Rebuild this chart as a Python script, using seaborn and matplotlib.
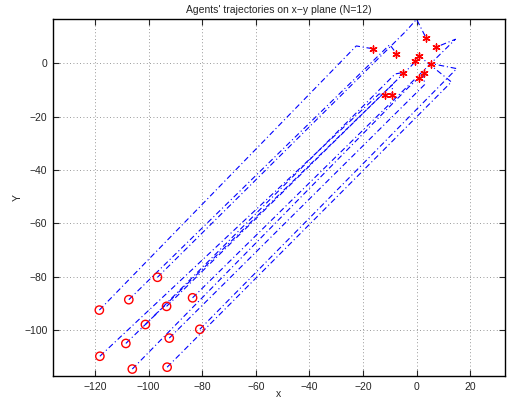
import matplotlib
matplotlib.use("Agg")
import matplotlib.pyplot as plt
import seaborn as sns
import pandas as pd

# start positions (red circles)
start_x = [-96.7, -107.4, -118.4, -83.6, -93.3, -101.2, -80.9, -92.3, -108.5, -118.2, -106.1, -93.1]
start_y = [-80.2, -88.6, -92.5, -87.9, -91.1, -97.9, -99.7, -103.0, -105.0, -109.8, -114.6, -113.9]
# final positions (red stars)
end_x = [3.5, -7.5, -16.1, 7.2, -0.4, -5.2, 5.4, 2.6, -9.1, -11.7, 1.0, 1.0]
end_y = [9.6, 3.6, 5.4, 6.0, 0.75, -3.5, -0.1, -3.5, -11.8, -11.8, -5.4, 2.7]
# turning points (one or two per agent)
via_x = [[-4.0, 0.0], [-10.0], [-22.5], [14.5], [-2.0], [-8.0], [15.0], [3.0], [-9.0], [-14.0], [-3.0], [13.0]]
via_y = [[12.0, 16.5], [7.0], [6.5], [9.0], [-1.0], [-4.0], [-2.0], [-8.0], [-8.0], [-11.5], [-9.0], [-7.0]]

rows = []
for i in range(len(start_x)):
    xs = [start_x[i]] + via_x[i] + [end_x[i]]
    ys = [start_y[i]] + via_y[i] + [end_y[i]]
    for k in range(len(xs)):
        rows.append({"agent": i, "step": k, "x": xs[k], "y": ys[k]})
traj = pd.DataFrame(rows)

sns.set_style("ticks")
plt.rcParams["font.family"] = ["Liberation Sans", "DejaVu Sans"]
plt.rcParams["font.size"] = 7.5

fig = plt.figure(figsize=(5.07, 3.98), dpi=100)
ax = fig.add_axes([0.1045, 0.0553, 0.8915, 0.897])

for i in range(len(start_x)):
    d = traj[traj.agent == i]
    sns.lineplot(data=d, x="x", y="y", sort=False, estimator=None, ax=ax,
                 color="blue", linewidth=0.8, linestyle=(0, (5, 2.5, 1, 2.5)))

sns.scatterplot(x=start_x, y=start_y, ax=ax, marker="o", s=36,
                facecolors="none", edgecolor="red", linewidth=1.0, zorder=5)
sns.scatterplot(x=end_x, y=end_y, ax=ax, marker=(6, 2, 0), s=26,
                color="red", edgecolor="red", linewidth=1.0, zorder=5)

ax.set_xlim(-135.7, 33)
ax.set_ylim(-117.2, 16.6)
ax.set_xticks(range(-120, 21, 20))
ax.set_yticks(range(-100, 1, 20))
ax.set_xticklabels([str(v).replace("-", "\u2212") for v in range(-120, 21, 20)])
ax.set_yticklabels([str(v).replace("-", "\u2212") for v in range(-100, 1, 20)])
ax.grid(True, linestyle=(0, (1, 3)), color="#777777", linewidth=0.6)
ax.tick_params(direction="in", top=True, right=True, length=4, width=0.8, pad=4)
for s in ax.spines.values():
    s.set_linewidth(1.0)
    s.set_color("black")
ax.set_xlabel("x", va="center")
ax.set_ylabel("Y", va="center")
ax.xaxis.set_label_coords(0.5, -0.05)
ax.yaxis.set_label_coords(-0.077, 0.5)
ax.set_title("Agents' trajectories on x\u2212y plane (N=12)", fontsize=7.5, pad=4)

fig.savefig("out.png", dpi=100)
